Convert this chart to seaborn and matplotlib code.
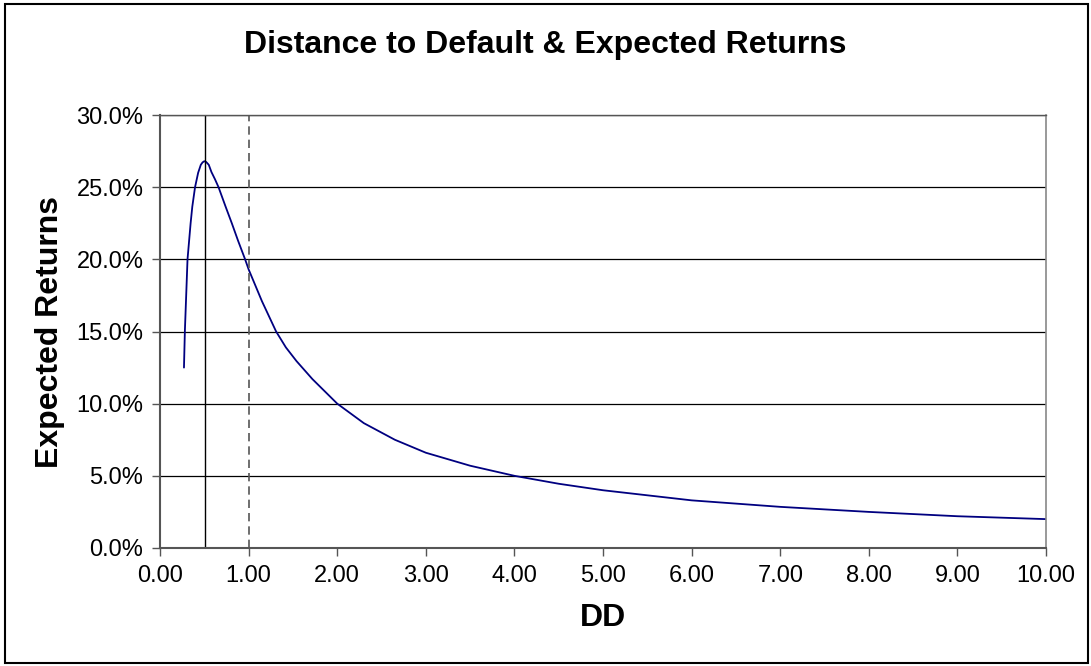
import seaborn as sns
import matplotlib.pyplot as plt
import pandas as pd
from matplotlib.patches import Rectangle
from matplotlib.ticker import PercentFormatter, MultipleLocator, FormatStrFormatter

# Curve
dd = [0.27, 0.28, 0.31, 0.345, 0.364, 0.395, 0.43, 0.46, 0.48, 0.50, 0.52, 0.55,
      0.58, 0.62, 0.66, 0.74, 0.81, 0.88, 0.96, 1.00, 1.15, 1.31, 1.42, 1.54,
      1.72, 2.00, 2.30, 2.65, 3.00, 3.50, 4.00, 4.50, 5.00, 6.00, 7.00, 8.00,
      9.00, 10.00]
expected_returns = [0.125, 0.150, 0.200, 0.225, 0.2365, 0.250, 0.260, 0.2655, 0.2672,
                    0.268, 0.2675, 0.2655, 0.2605, 0.2555, 0.250, 0.2365, 0.225,
                    0.213, 0.200, 0.193, 0.171, 0.150, 0.139, 0.1295, 0.117, 0.100,
                    0.0865, 0.075, 0.066, 0.057, 0.050, 0.0445, 0.040, 0.033,
                    0.0285, 0.025, 0.022, 0.020]
peak_dd = 0.505
ref_dd = 1.00

df = pd.DataFrame({"DD": dd, "Expected Returns": expected_returns})

sns.set_theme(style="white")
plt.rcParams["font.family"] = ["Liberation Sans", "DejaVu Sans"]
plt.rcParams["text.color"] = "black"
plt.rcParams["axes.labelcolor"] = "black"
plt.rcParams["xtick.color"] = "black"
plt.rcParams["ytick.color"] = "black"

fig = plt.figure(figsize=(10.91, 6.66), dpi=100)
ax = fig.add_axes([0.1467, 0.1772, 0.8121, 0.6501])

sns.lineplot(data=df, x="DD", y="Expected Returns", ax=ax, color="#000080",
             linewidth=1.3, sort=False, solid_joinstyle="round")
ax.axvline(peak_dd, color="black", linewidth=1.0)
ax.axvline(ref_dd, color="#555555", linewidth=1.2, linestyle=(0, (5, 3)))

ax.set_xlim(0, 10)
ax.set_ylim(0, 0.30)
ax.xaxis.set_major_locator(MultipleLocator(1))
ax.xaxis.set_major_formatter(FormatStrFormatter("%.2f"))
ax.yaxis.set_major_locator(MultipleLocator(0.05))
ax.yaxis.set_major_formatter(PercentFormatter(1.0, decimals=1))
ax.grid(axis="y", color="black", linewidth=0.9)
ax.tick_params(axis="both", which="major", direction="out", length=6, width=1,
               color="#555555", labelcolor="black", labelsize=17, pad=6,
               bottom=True, left=True)

for side in ["left", "bottom"]:
    ax.spines[side].set_color("#555555")
    ax.spines[side].set_linewidth(1.5)
ax.spines["right"].set_color("#888888")
ax.spines["right"].set_linewidth(1.2)
ax.spines["top"].set_color("#555555")
ax.spines["top"].set_linewidth(1.0)

ax.set_xlabel("DD", fontsize=23, fontweight="bold", labelpad=12, color="black")
ax.set_ylabel("Expected Returns", fontsize=23, fontweight="bold", labelpad=8,
              color="black")
fig.text(0.5, 0.932, "Distance to Default & Expected Returns", ha="center",
         va="center", fontsize=23, fontweight="bold", color="black")

fig.patches.append(Rectangle((0.005, 0.004), 0.992, 0.99, transform=fig.transFigure,
                             fill=False, edgecolor="black", linewidth=1.5))

fig.savefig("out.png", dpi=100)
